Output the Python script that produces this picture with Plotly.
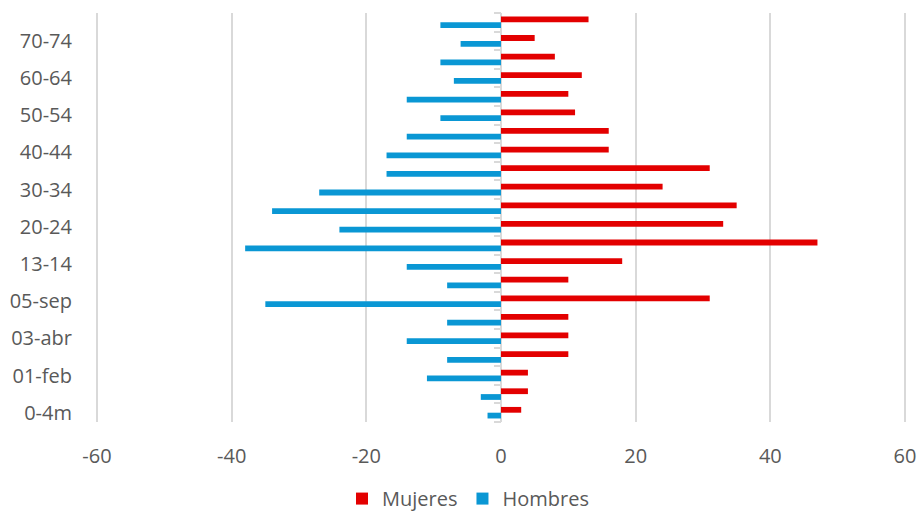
import plotly.graph_objects as go

# Age groups, bottom to top (Excel-converted labels kept as shown)
categories = ["0-4m", "05-nov", "01-feb", "02-mar", "03-abr", "04-may", "05-sep",
              "10-dic", "13-14", "15-19", "20-24", "25-29", "30-34", "35-39",
              "40-44", "45-49", "50-54", "55-59", "60-64", "65-69", "70-74", "75+"]

mujeres = [3, 4, 4, 10, 10, 10, 31, 10, 18, 47, 33, 35, 24, 31, 16, 16, 11, 10, 12, 8, 5, 13]
hombres = [-2, -3, -11, -8, -14, -8, -35, -8, -14, -38, -24, -34, -27, -17, -17, -14, -9, -14, -7, -9, -6, -9]

x_tick_vals = [-60, -40, -20, 0, 20, 40, 60]
x_tick_text = ["-60", "-40", "-20", "0", "20", "40", "60"]
y_tick_labels = categories[::2]

FONT = "Open Sans"
TXT = "#595959"
GRID = "#D9D9D9"
BAR_W = 0.31

fig = go.Figure()
fig.add_trace(go.Bar(
    y=categories, x=mujeres, orientation="h", name="Mujeres",
    width=BAR_W, offset=0.0,
    marker=dict(color="#E30000", line=dict(width=0)), legendrank=1,
    yaxis="y",
))
fig.add_trace(go.Bar(
    y=categories, x=hombres, orientation="h", name="Hombres",
    width=BAR_W, offset=-BAR_W,
    marker=dict(color="#0A97D4", line=dict(width=0)), legendrank=2,
    yaxis="y2",
))

yr = [-0.5, len(categories) - 0.5]

fig.update_layout(
    width=920, height=514,
    margin=dict(l=95, r=13, t=13, b=92),
    paper_bgcolor="white", plot_bgcolor="white",
    barmode="overlay",
    font=dict(family=FONT, size=20, color=TXT),
    showlegend=True,
    legend=dict(orientation="h", xref="container", yref="container",
                x=0.5087, xanchor="center", y=0.03, yanchor="middle",
                font=dict(family=FONT, size=20, color=TXT),
                tracegroupgap=0),
    xaxis=dict(range=[-60.3, 60.3], tickvals=x_tick_vals, ticktext=x_tick_text,
               showgrid=True, gridcolor=GRID, gridwidth=1.6,
               zeroline=True, zerolinecolor=GRID, zerolinewidth=1.6,
               showline=False, ticks="", ticklabelstandoff=20, automargin=False,
               tickfont=dict(family=FONT, size=20, color=TXT), fixedrange=True),
    yaxis=dict(type="category", categoryorder="array", categoryarray=categories,
               range=yr, automargin=False,
               tickmode="array", tickvals=y_tick_labels, ticktext=y_tick_labels,
               showgrid=False, zeroline=False, showline=False, ticks="",
               ticklabelstandoff=22,
               tickfont=dict(family=FONT, size=20, color=TXT)),
    yaxis2=dict(type="category", categoryorder="array", categoryarray=categories,
                range=yr, overlaying="y", anchor="free", position=0.5, side="left",
                automargin=False, tickson="boundaries",
                ticks="outside", ticklen=7, tickwidth=2, tickcolor=GRID,
                showticklabels=False, showgrid=False, zeroline=False,
                showline=False),
)

fig.write_html("out.html",
               config={"displayModeBar": False},
               post_script="document.body.style.margin='0';document.body.style.overflow='hidden';")
